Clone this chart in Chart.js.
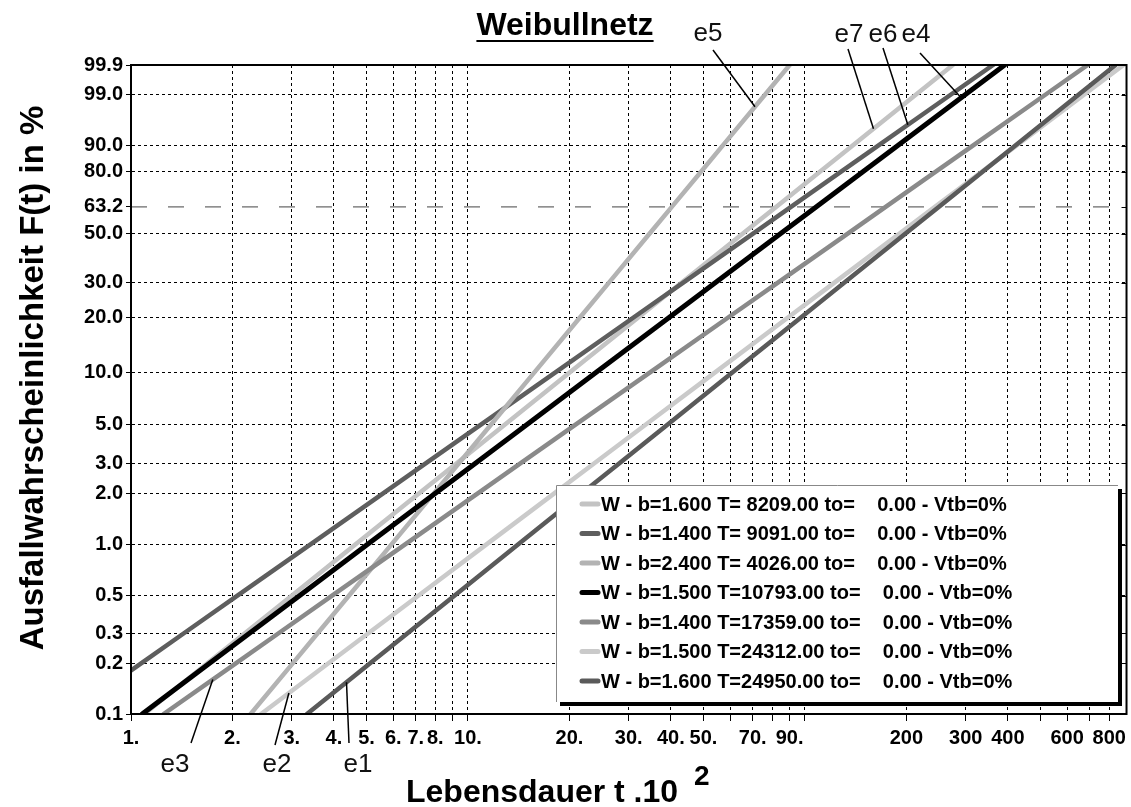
<!DOCTYPE html>
<html>
<head>
<meta charset="utf-8">
<title>Weibullnetz</title>
<script src="https://cdn.jsdelivr.net/npm/chart.js@4.4.1/dist/chart.umd.min.js"></script>
<style>
  html, body { margin: 0; padding: 0; background: #fff; }
</style>
</head>
<body>
<canvas id="grafica" width="1131" height="807"></canvas>
<script>
// Weibull-Parameter je Kurve (t in Stunden)
const formB = [1.6, 1.4, 2.4, 1.5, 1.4, 1.5, 1.6];
const skalaT = [8209, 9091, 4026, 10793, 17359, 24312, 24950];
const lageT0 = [0, 0, 0, 0, 0, 0, 0];
const vtb = [0, 0, 0, 0, 0, 0, 0];

// Wahrscheinlichkeitsachse (F in %)
const fTicks = [0.1, 0.2, 0.3, 0.5, 1, 2, 3, 5, 10, 20, 30, 50, 63.2, 80, 90, 99, 99.9];
const fLabels = ['0.1', '0.2', '0.3', '0.5', '1.0', '2.0', '3.0', '5.0', '10.0', '20.0', '30.0', '50.0', '63.2', '80.0', '90.0', '99.0', '99.9'];

// Zeitachse in 10^2 h
const tTicks = [1, 2, 3, 4, 5, 6, 7, 8, 9, 10, 20, 30, 40, 50, 60, 70, 80, 90, 100, 200, 300, 400, 500, 600, 700, 800];
const tLabels = ['1.', '2.', '3.', '4.', '5.', '6.', '7.', '8.', '', '10.', '20.', '30.', '40.', '50.', '', '70.', '', '90.', '', '200', '300', '400', '', '600', '', '800'];
const tMin = 1;
const tMax = 900;
const zeitEinheit = 100;

// Kurvennamen und F-Wert (%) an der Zeigerspitze, je Kurve
const kurvenNamen = ['e7', 'e6', 'e5', 'e4', 'e3', 'e2', 'e1'];
const zeigerF = [94.5, 95.3, 98.0, 98.8, 0.16, 0.133, 0.154];

const farben = ['#c3c3c3', '#5e5e5e', '#b3b3b3', '#000000', '#8a8a8a', '#cacaca', '#5a5a5a'];
// Textposition und Zeigeranfang der Kurvennamen (px)
const namenPos = [
  [849, 42, 848, 49], [883, 42, 883, 48], [708, 41, 713, 50], [916, 42, 920, 53],
  [175, 772, 191, 743], [277, 772, 275, 745], [358, 772, 349, 743]
];

const schrift = '"Liberation Sans", Arial, sans-serif';
Chart.defaults.font.family = schrift;
Chart.defaults.color = '#000';

// Weibull-Transformation: ln(-ln(1-F))
function wb(F) {
  return Math.log(-Math.log(1 - F / 100));
}
function zeitBei(i, F) {
  return (lageT0[i] + skalaT[i] * Math.pow(-Math.log(1 - F / 100), 1 / formB[i])) / zeitEinheit;
}
function legendenText(i) {
  return 'W - b=' + formB[i].toFixed(3) + ' T=' + skalaT[i].toFixed(2).padStart(8, ' ') +
    ' to=' + lageT0[i].toFixed(2).padStart(8, ' ') + ' - Vtb=' + vtb[i] + '%';
}

const datensaetze = formB.map((b, i) => ({
  data: fTicks.map(F => ({ x: zeitBei(i, F), y: wb(F) })),
  borderColor: farben[i],
  borderWidth: i === 3 ? 5 : 4.5,
  borderCapStyle: 'round',
  order: 7 - i
}));
// 63.2 %-Linie (charakteristische Lebensdauer)
datensaetze.push({
  data: [{ x: tMin, y: wb(63.2) }, { x: tMax, y: wb(63.2) }],
  borderColor: '#444',
  borderWidth: 1,
  borderDash: [16, 21],
  order: 20
});

const netzPlugin = {
  id: 'netz',
  afterDatasetsDraw(chart) {
    const { ctx, chartArea: a, scales } = chart;
    ctx.save();
    ctx.strokeStyle = '#000';
    ctx.lineWidth = 2;
    ctx.strokeRect(a.left, a.top, a.right - a.left, a.bottom - a.top);
    ctx.lineWidth = 1;
    ctx.beginPath();
    fTicks.forEach(F => {
      const y = Math.round(scales.y.getPixelForValue(wb(F))) + 0.5;
      ctx.moveTo(a.right - 5, y);
      ctx.lineTo(a.right, y);
    });
    ctx.stroke();
    ctx.restore();
  },
  afterDraw(chart) {
    const { ctx, scales } = chart;
    ctx.save();

    // Titel
    ctx.fillStyle = '#000';
    ctx.font = 'bold 32px ' + schrift;
    ctx.textAlign = 'center';
    ctx.textBaseline = 'alphabetic';
    ctx.fillText('Weibullnetz', 565, 35);
    const tw = ctx.measureText('Weibullnetz').width;
    ctx.fillRect(565 - tw / 2, 40, tw, 2);

    // Achsentitel
    ctx.save();
    ctx.translate(43, 378);
    ctx.rotate(-Math.PI / 2);
    ctx.font = 'bold 33px ' + schrift;
    ctx.fillText('Ausfallwahrscheinlichkeit F(t) in %', 0, 0);
    ctx.restore();
    ctx.textAlign = 'left';
    ctx.fillText('Lebensdauer t .10', 406, 802);
    ctx.font = 'bold 28px ' + schrift;
    ctx.fillText('2', 694, 785);

    // Legende
    const lx = 556, ly = 485, lw = 562, lh = 217;
    ctx.fillStyle = '#fff';
    ctx.fillRect(lx, ly, lw, lh);
    ctx.strokeStyle = '#888';
    ctx.lineWidth = 1;
    ctx.beginPath();
    ctx.moveTo(lx + 0.5, ly + lh);
    ctx.lineTo(lx + 0.5, ly + 0.5);
    ctx.lineTo(lx + lw, ly + 0.5);
    ctx.stroke();
    ctx.fillStyle = '#000';
    ctx.fillRect(lx + lw, ly + 4, 4, lh);
    ctx.fillRect(lx + 4, ly + lh, lw, 4);
    ctx.font = 'bold 20px ' + schrift;
    ctx.textBaseline = 'middle';
    ctx.lineCap = 'round';
    formB.forEach((b, i) => {
      const y = 504 + 29.5 * i;
      ctx.strokeStyle = farben[i];
      ctx.lineWidth = 5;
      ctx.beginPath();
      ctx.moveTo(582, y);
      ctx.lineTo(598, y);
      ctx.stroke();
      ctx.fillStyle = '#000';
      ctx.fillText(legendenText(i), 601, y + 1);
    });

    // Kurvennamen mit Zeigern
    ctx.font = '26px ' + schrift;
    ctx.textAlign = 'center';
    ctx.textBaseline = 'alphabetic';
    ctx.lineCap = 'butt';
    kurvenNamen.forEach((name, i) => {
      const [tx, ty, sx, sy] = namenPos[i];
      const px = scales.x.getPixelForValue(zeitBei(i, zeigerF[i]));
      const py = scales.y.getPixelForValue(wb(zeigerF[i]));
      ctx.fillStyle = '#111';
      ctx.fillText(name, tx, ty);
      ctx.strokeStyle = '#000';
      ctx.lineWidth = 1.5;
      ctx.beginPath();
      ctx.moveTo(sx, sy);
      ctx.lineTo(px, py);
      ctx.stroke();
    });
    ctx.restore();
  }
};

const config = {
  type: 'scatter',
  data: { datasets: datensaetze },
  options: {
    responsive: false,
    animation: false,
    showLine: true,
    layout: { padding: { top: 65, right: 2, left: 0, bottom: 0 } },
    elements: { point: { radius: 0, hoverRadius: 0 }, line: { tension: 0 } },
    plugins: { legend: { display: false }, tooltip: { enabled: false } },
    scales: {
      x: {
        type: 'logarithmic',
        min: tMin,
        max: tMax,
        afterBuildTicks: s => { s.ticks = tTicks.map(v => ({ value: v })); },
        afterFit: s => { s.height = 93; },
        ticks: {
          autoSkip: false,
          maxRotation: 0,
          padding: 5,
          color: '#000',
          font: { size: 20, weight: 'bold' },
          callback: (v, i) => tLabels[i]
        },
        grid: { color: '#000', lineWidth: 1, tickLength: 7, tickColor: '#000' },
        border: { color: '#000', width: 2, dash: [3, 3] }
      },
      y: {
        type: 'linear',
        min: wb(0.1),
        max: wb(99.9),
        afterBuildTicks: s => { s.ticks = fTicks.map(F => ({ value: wb(F) })); },
        afterFit: s => { s.width = 131; },
        ticks: {
          autoSkip: false,
          padding: 3,
          color: '#000',
          font: { size: 20, weight: 'bold' },
          callback: (v, i) => fLabels[i]
        },
        grid: {
          color: c => fTicks[c.index] === 63.2 ? 'rgba(0,0,0,0)' : '#000',
          lineWidth: 1,
          tickLength: 5,
          tickColor: '#000'
        },
        border: { color: '#000', width: 2, dash: [3, 3] }
      }
    }
  },
  plugins: [netzPlugin]
};

const grafica = new Chart(document.getElementById('grafica'), config);
</script>
</body>
</html>
